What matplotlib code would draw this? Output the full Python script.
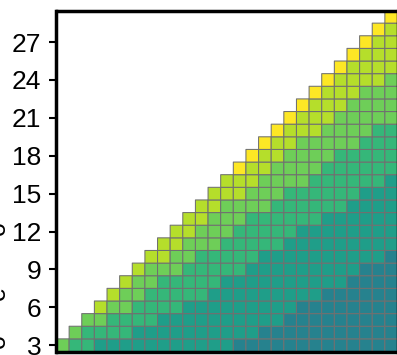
import matplotlib
matplotlib.use('Agg')
import matplotlib.pyplot as plt
from matplotlib.colors import ListedColormap
import numpy as np

plt.rcParams['font.family'] = ['Liberation Sans', 'DejaVu Sans']

# x and y both run 3..29, only cells with x >= y are filled
x_vals = list(range(3, 30))
y_ticks = [3, 6, 9, 12, 15, 18, 21, 24, 27]

# colour level per row, first entry is the diagonal cell (x == y)
row_levels = {
	3: [2] + [3] * 2 + [4] * 11 + [5] * 13,
	4: [2] + [3] * 4 + [4] * 10 + [5] * 11,
	5: [2] * 2 + [3] * 4 + [4] * 10 + [5] * 9,
	6: [1] + [2] * 2 + [3] * 4 + [4] * 9 + [5] * 8,
	7: [1] + [2] * 2 + [3] * 5 + [4] * 9 + [5] * 6,
	8: [1] + [2] * 2 + [3] * 5 + [4] * 10 + [5] * 4,
	9: [1] + [2] * 3 + [3] * 5 + [4] * 9 + [5] * 3,
	10: [1] * 2 + [2] * 2 + [3] * 5 + [4] * 10 + [5],
	11: [1] * 2 + [2] * 3 + [3] * 5 + [4] * 9,
	12: [1] * 2 + [2] * 3 + [3] * 5 + [4] * 8,
	13: [1] * 2 + [2] * 3 + [3] * 6 + [4] * 6,
	14: [1] * 2 + [2] * 4 + [3] * 6 + [4] * 4,
	15: [1] * 3 + [2] * 3 + [3] * 6 + [4] * 3,
	16: [1] * 3 + [2] * 4 + [3] * 6 + [4],
	17: [0] + [1] * 2 + [2] * 4 + [3] * 6,
	18: [0] + [1] * 2 + [2] * 4 + [3] * 5,
	19: [0] + [1] * 2 + [2] * 5 + [3] * 3,
	20: [0] + [1] * 3 + [2] * 4 + [3] * 2,
	21: [0] + [1] * 3 + [2] * 5,
	22: [0] + [1] * 3 + [2] * 4,
	23: [0] + [1] * 3 + [2] * 3,
	24: [0] + [1] * 4 + [2],
	25: [0] + [1] * 4,
	26: [0] + [1] * 3,
	27: [0] + [1] * 2,
	28: [0, 1],
	29: [0],
}
level_colors = ['#fde725', '#b5de2b', '#6ece58', '#35b779', '#1f9e89', '#26828e']

# bits of the cropped y label that are left at the picture's edge
label_bits = ['o', 'e', 'o']
label_bit_y = [228, 293, 341]

n = len(x_vals)
grid = np.full((n, n), np.nan)
for y, levels in row_levels.items():
	for k, lev in enumerate(levels):
		grid[y - 3, y - 3 + k] = lev

fig = plt.figure(figsize=(3.97, 3.55), dpi=100)
ax = fig.add_axes([56.5 / 397, (355 - 351.5) / 355, 341 / 397, 341 / 355])

edges = np.arange(2.5, 30.5)
# pcolor drops masked cells, pcolormesh would still stroke their edges
ax.pcolor(edges, edges, np.ma.masked_invalid(grid),
	cmap=ListedColormap(level_colors), vmin=-0.5, vmax=5.5,
	edgecolors='#707070', linewidth=0.75)

ax.set_xlim(2.5, 29.5)
ax.set_ylim(2.5, 29.5)
ax.set_xticks([])
ax.set_yticks(y_ticks)
ax.tick_params(axis='y', labelsize=19, length=5, width=1.5, pad=6)
for spine in ax.spines.values():
	spine.set_linewidth(2.5)

for bit, py in zip(label_bits, label_bit_y):
	fig.text(5 / 397, 1 - py / 355, bit, fontsize=18, rotation=90,
		ha='center', va='baseline', rotation_mode='anchor')

fig.savefig('out.png', dpi=100)
